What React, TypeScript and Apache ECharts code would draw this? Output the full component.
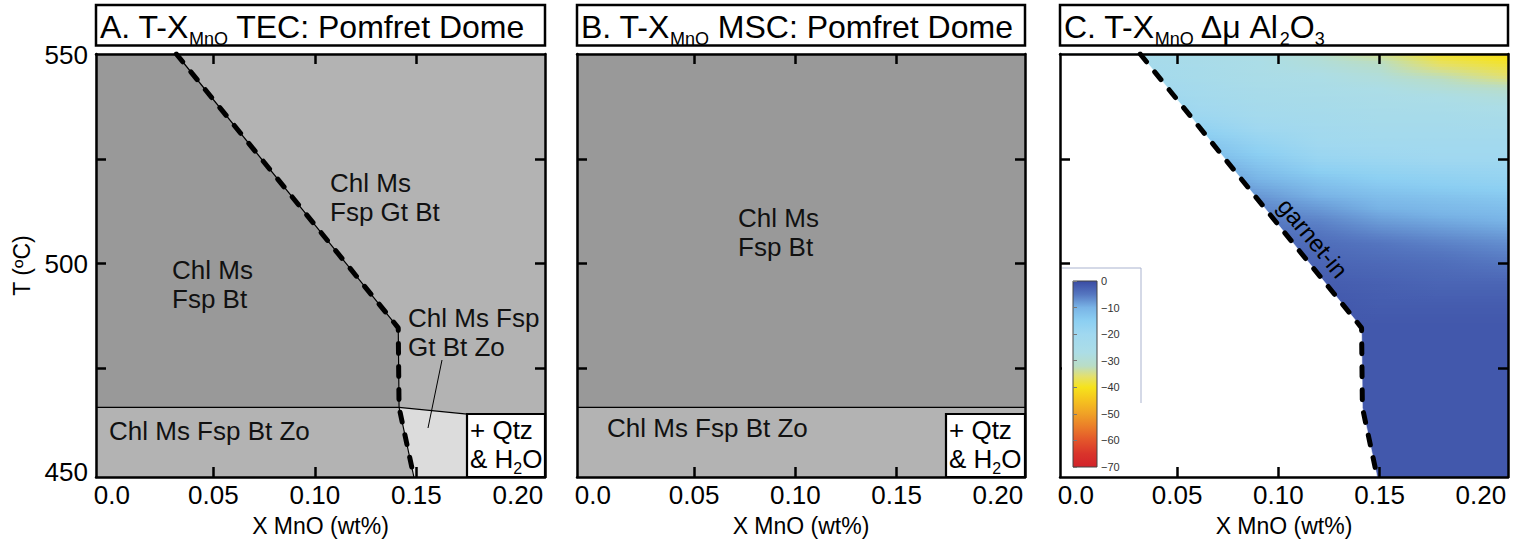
import React, { useEffect, useRef } from "react";
import * as echarts from "echarts";

// ---------- axis ranges / ticks ----------
const X_MIN = -0.0078;
const X_MAX = 0.2134;
const T_MIN = 448.8;
const T_MAX = 550.3;
const xTickLabels = [0, 0.05, 0.1, 0.15, 0.2];
const xTicks = [0.05, 0.1, 0.15];
const tTickLabels = [450, 500, 550];
const tTicks = [475, 500, 525];

// ---------- phase boundaries ----------
// garnet-in boundary (X MnO, T)
const garnetX = [0.0318, 0.1411, 0.1415, 0.1488];
const garnetT = [550.3, 484.6, 465.5, 448.8];
// zoisite-out line, panel A
const zoAX = [-0.0078, 0.1415, 0.1751];
const zoAT = [465.5, 465.5, 463.9];
// zoisite-out line, panel B
const zoBX = [-0.0078, 0.2134];
const zoBT = [465.5, 465.5];

// ---------- Δμ Al2O3 field (panel C) ----------
const dmuX = [0.03, 0.06, 0.09, 0.12, 0.15, 0.18, 0.2134];
const dmuT = [550, 545, 540, 535, 530, 525, 520, 515, 510, 505, 500, 495, 490, 485, 480, 475, 470, 465, 460, 455, 450];
const dmuRows = [
  [-24, -25, -27, -30, -34, -39, -41],
  [-22, -24, -26, -27, -29, -33, -36],
  [-19, -22, -24, -25, -26, -27, -29],
  [-15, -19, -22, -23, -24, -24, -25],
  [-11, -14, -18, -21, -22, -22, -22],
  [-8, -10, -14, -18, -19, -20, -20],
  [-6, -7, -10, -13, -15, -16, -17],
  [-4.5, -5, -7, -9, -11, -12, -13],
  [-3.5, -4, -5, -6, -8, -9, -10],
  [-3, -3, -3.5, -4, -5, -6, -7],
  [-2, -2, -2.5, -3, -3.5, -4, -5],
  [-1.5, -1.5, -2, -2, -2.5, -3, -3],
  [-1.5, -1.5, -1.5, -1.5, -2, -2, -2],
  [-1.5, -1.5, -1.5, -1.5, -1.5, -1.5, -1.5],
  [-1.5, -1.5, -1.5, -1.5, -1.5, -1.5, -1.5],
  [-1.5, -1.5, -1.5, -1.5, -1.5, -1.5, -1.5],
  [-1.5, -1.5, -1.5, -1.5, -1.5, -1.5, -1.5],
  [-1.5, -1.5, -1.5, -1.5, -1.5, -1.5, -1.5],
  [-1.5, -1.5, -1.5, -1.5, -1.5, -1.5, -1.5],
  [-1.5, -1.5, -1.5, -1.5, -1.5, -1.5, -1.5],
  [-1.5, -1.5, -1.5, -1.5, -1.5, -1.5, -1.5],
];

// colour bar
const cbValues = [0, -5, -10, -15, -20, -27, -32, -36, -40, -45, -50, -55, -60, -65, -70];
const cbColors = [
  "#3a4ba3", "#5576c0", "#79b4e6", "#8ccff2", "#a0d8f0", "#acdde6", "#b9ddc6",
  "#e4e06c", "#f6e31c", "#f5c21f", "#f0a126", "#ea7c29", "#e3552b", "#d9342b", "#d2222a",
];

const FONT = "'Liberation Sans', Arial, Helvetica, sans-serif";
const DARK = "#999999";
const LIGHT = "#b3b3b3";
const PALE = "#dcdcdc";

const panels = [
  { left: 96, width: 449 },
  { left: 577, width: 448 },
  { left: 1060, width: 448 },
];
const GRID_TOP = 54;
const GRID_H = 423;

function hexToRgb(h: string) {
  const n = parseInt(h.slice(1), 16);
  return [(n >> 16) & 255, (n >> 8) & 255, n & 255];
}
function colorFor(v: number) {
  if (v >= cbValues[0]) return cbColors[0];
  for (let i = 0; i < cbValues.length - 1; i++) {
    const a = cbValues[i], b = cbValues[i + 1];
    if (v <= a && v >= b) {
      const t = (a - v) / (a - b);
      const c1 = hexToRgb(cbColors[i]), c2 = hexToRgb(cbColors[i + 1]);
      const c = c1.map((x, k) => Math.round(x + (c2[k] - x) * t));
      return `rgb(${c[0]},${c[1]},${c[2]})`;
    }
  }
  return cbColors[cbColors.length - 1];
}

function pairs(xs: number[], ts: number[]) {
  return xs.map((x, i) => [x, ts[i]]);
}

function polySeries(gi: number, pts: number[][], color: string, z = 2) {
  return {
    type: "custom",
    xAxisIndex: gi * 2,
    yAxisIndex: gi * 2,
    silent: true,
    z,
    data: pts,
    renderItem: (params: any, api: any) => {
      if (params.dataIndex !== 0) return { type: "group", children: [] };
      return {
        type: "polygon",
        shape: { points: pts.map((p) => api.coord(p)) },
        style: { fill: color, stroke: color, lineWidth: 0.6 },
      };
    },
  };
}

function lineSeries(gi: number, pts: number[][], width: number, dashed: boolean, z = 4) {
  return {
    type: "line",
    xAxisIndex: gi * 2,
    yAxisIndex: gi * 2,
    data: pts,
    symbol: "none",
    silent: true,
    z,
    lineStyle: dashed
      ? { color: "#000", width, type: [10, 13], cap: "round" }
      : { color: "#000", width, type: "solid" },
  };
}

function xAxesFor(gi: number) {
  const common = {
    type: "value",
    gridIndex: gi,
    min: X_MIN,
    max: X_MAX,
    z: 5,
    splitLine: { show: false },
    axisLine: { show: true, onZero: false, lineStyle: { color: "#000", width: 2.5 } },
    axisTick: { show: true, inside: true, length: 10, customValues: xTicks, lineStyle: { color: "#000", width: 2.5 } },
  };
  return [
    {
      ...common,
      position: "bottom",
      axisLabel: {
        show: true,
        customValues: xTickLabels,
        formatter: (v: number) => (v === 0 ? "0.0" : v.toFixed(2)),
        fontSize: 26,
        color: "#000",
        margin: 5,
        fontFamily: FONT,
      },
      name: "X MnO (wt%)",
      nameLocation: "middle",
      nameGap: 37,
      nameTextStyle: { fontSize: 23, color: "#000", fontFamily: FONT },
    },
    { ...common, position: "top", axisLabel: { show: false } },
  ];
}

function yAxesFor(gi: number) {
  const common = {
    type: "value",
    gridIndex: gi,
    min: T_MIN,
    max: T_MAX,
    z: 5,
    splitLine: { show: false },
    axisLine: { show: true, onZero: false, lineStyle: { color: "#000", width: 2.5 } },
    axisTick: { show: true, inside: true, length: 10, customValues: tTicks, lineStyle: { color: "#000", width: 2.5 } },
  };
  const left: any = {
    ...common,
    position: "left",
    axisLabel: {
      show: gi === 0,
      customValues: tTickLabels,
      fontSize: 26,
      color: "#000",
      margin: 8,
      fontFamily: FONT,
    },
  };
  if (gi === 0) {
    left.name = "T (ºC)";
    left.nameLocation = "middle";
    left.nameGap = 63;
    left.nameRotate = 90;
    left.nameTextStyle = { fontSize: 23, color: "#000", fontFamily: FONT };
  }
  return [left, { ...common, position: "right", axisLabel: { show: false } }];
}

const g = pairs(garnetX, garnetT);
const zoA = pairs(zoAX, zoAT);
const zoB = pairs(zoBX, zoBT);

function buildOption(): any {
  const grids: any[] = panels.map((p) => ({ left: p.left, top: GRID_TOP, width: p.width, height: GRID_H, containLabel: false }));
  grids.push({ left: 1073, top: 281, width: 24, height: 186, containLabel: false });

  const xAxis: any[] = [];
  const yAxis: any[] = [];
  for (let i = 0; i < 3; i++) {
    xAxis.push(...xAxesFor(i));
    yAxis.push(...yAxesFor(i));
  }
  xAxis.push({ type: "value", gridIndex: 3, min: 0, max: 1, show: false });
  yAxis.push({
    type: "value",
    gridIndex: 3,
    min: -70,
    max: 0,
    interval: 10,
    position: "right",
    z: 30,
    axisLine: { show: false },
    splitLine: { show: false },
    axisTick: { show: true, length: 4, lineStyle: { color: "#777", width: 1 } },
    axisLabel: {
      fontSize: 11,
      color: "#333",
      margin: 4,
      fontFamily: FONT,
      formatter: (v: number) => (v === 0 ? "0" : "\u2212" + Math.abs(v)),
    },
  });

  // Panel A regions
  const darkA = [[X_MIN, T_MAX], g[0], g[1], g[2], [X_MIN, zoA[0][1]]];
  const lightUpA = [g[0], [X_MAX, T_MAX], [X_MAX, zoA[2][1]], zoA[2], g[2], g[1]];
  const lightLowA = [[X_MIN, zoA[0][1]], g[2], g[3], [X_MIN, T_MIN]];
  const paleA = [g[2], zoA[2], [zoA[2][0], T_MIN], g[3]];
  // Panel B regions
  const darkB = [[X_MIN, T_MAX], [X_MAX, T_MAX], zoB[1], zoB[0]];
  const lightB = [zoB[0], zoB[1], [X_MAX, T_MIN], [X_MIN, T_MIN]];
  // Panel C mask (garnet absent)
  const maskC = [[X_MIN, T_MAX], g[0], g[1], g[2], g[3], [X_MIN, T_MIN]];

  const heatSeries = {
    type: "custom",
    xAxisIndex: 4,
    yAxisIndex: 4,
    silent: true,
    z: 1,
    data: dmuT.map((t, i) => [t, i]),
    renderItem: (params: any, api: any) => {
      const i = params.dataIndex;
      const children: any[] = [];
      const strip = (tTop: number, tBot: number, vals: number[]) => {
        const p1 = api.coord([X_MIN, tTop]);
        const p2 = api.coord([X_MAX, tBot]);
        const w = p2[0] - p1[0];
        const stops = dmuX.map((x, j) => ({
          offset: Math.max(0, Math.min(1, (api.coord([x, tTop])[0] - p1[0]) / w)),
          color: colorFor(vals[j]),
        }));
        stops.unshift({ offset: 0, color: colorFor(vals[0]) });
        children.push({
          type: "rect",
          shape: { x: p1[0], y: p1[1] - 0.4, width: w, height: p2[1] - p1[1] + 0.8 },
          style: { fill: new echarts.graphic.LinearGradient(0, 0, 1, 0, stops) },
        });
      };
      if (i === 0) strip(T_MAX, dmuT[0], dmuRows[0]);
      if (i < dmuT.length - 1) {
        const N = 7;
        const a = dmuRows[i], b = dmuRows[i + 1];
        const dt = dmuT[i] - dmuT[i + 1];
        for (let k = 0; k < N; k++) {
          const f = (k + 0.5) / N;
          strip(
            dmuT[i] - (dt * k) / N,
            dmuT[i] - (dt * (k + 1)) / N,
            a.map((v, j) => v + (b[j] - v) * f)
          );
        }
      } else {
        strip(dmuT[i], T_MIN, dmuRows[i]);
      }
      return { type: "group", children };
    },
  };

  const colorbarSeries = {
    type: "custom",
    xAxisIndex: 6,
    yAxisIndex: 6,
    silent: true,
    z: 30,
    data: cbValues.map((v) => [0.5, v]),
    renderItem: (params: any, api: any) => {
      if (params.dataIndex !== 0) return { type: "group", children: [] };
      const p1 = api.coord([0, 0]);
      const p2 = api.coord([1, -70]);
      const stops = cbValues.map((v, i) => ({ offset: -v / 70, color: cbColors[i] }));
      return {
        type: "rect",
        shape: { x: p1[0], y: p1[1], width: p2[0] - p1[0], height: p2[1] - p1[1] },
        style: { fill: new echarts.graphic.LinearGradient(0, 0, 0, 1, stops), stroke: "#444", lineWidth: 1 },
      };
    },
  };

  const series: any[] = [
    polySeries(0, darkA, DARK),
    polySeries(0, lightUpA, LIGHT),
    polySeries(0, lightLowA, LIGHT),
    polySeries(0, paleA, PALE),
    lineSeries(0, zoA, 1.2, false, 3),
    lineSeries(0, g, 1.2, false, 3),
    lineSeries(0, g, 5, true, 4),
    polySeries(1, darkB, DARK),
    polySeries(1, lightB, LIGHT),
    lineSeries(1, zoB, 1.2, false, 3),
    heatSeries,
    polySeries(2, maskC, "#ffffff", 2),
    lineSeries(2, g, 5, true, 4),
    colorbarSeries,
  ];

  // main tokens hang from the line top, subscripts sit on the line bottom
  const richMain = { fontSize: 32, fontFamily: FONT, color: "#000", lineHeight: 32, verticalAlign: "top" };
  const richSub = { fontSize: 18, fontFamily: FONT, color: "#000", lineHeight: 37, verticalAlign: "bottom" };
  const titleEl = (left: number, width: number, text: string) => ({
    type: "group",
    children: [
      { type: "rect", z: 10, shape: { x: left, y: 5, width, height: 40.5 }, style: { fill: "#fff", stroke: "#000", lineWidth: 2.5 } },
      {
        type: "text",
        z: 11,
        x: left + 4,
        y: 29,
        style: { text, rich: { m: richMain, s: richSub }, verticalAlign: "middle", align: "left" },
      },
    ],
  });

  const label = (x: number, yFirst: number, text: string) => ({
    type: "text",
    z: 12,
    x,
    y: yFirst - 14.5,
    style: { text, fontSize: 26, lineHeight: 29, fontFamily: FONT, fill: "#111", verticalAlign: "top", align: "left" },
  });

  const qtzBox = (left: number, width: number) => ({
    type: "group",
    children: [
      { type: "rect", z: 10, shape: { x: left, y: 414, width, height: 63 }, style: { fill: "#fff", stroke: "#000", lineWidth: 2.2 } },
      { type: "text", z: 11, x: left + 3, y: 430, style: { text: "+ Qtz", fontSize: 26, lineHeight: 26, fontFamily: FONT, fill: "#000", verticalAlign: "middle" } },
      {
        type: "text",
        z: 11,
        x: left + 3,
        y: 461,
        style: {
          text: "{m|& H}{s|2}{m|O}",
          verticalAlign: "middle",
          rich: {
            m: { fontSize: 26, fontFamily: FONT, color: "#000", lineHeight: 26, verticalAlign: "top" },
            s: { fontSize: 16, fontFamily: FONT, color: "#000", lineHeight: 31, verticalAlign: "bottom" },
          },
        },
      },
    ],
  });

  const graphic: any[] = [
    titleEl(96, 449, "{m|A. T-X}{s|MnO}{m| TEC: Pomfret Dome}"),
    titleEl(577, 448, "{m|B. T-X}{s|MnO}{m| MSC: Pomfret Dome}"),
    titleEl(1060, 448, "{m|C. T-X}{s|MnO}{m| Δμ Al}{s|2}{m|O}{s|3}"),
    label(330, 183, "Chl Ms\nFsp Gt Bt"),
    label(172, 270, "Chl Ms\nFsp Bt"),
    label(408, 318, "Chl Ms Fsp\nGt Bt Zo"),
    label(109, 431, "Chl Ms Fsp Bt Zo"),
    { type: "line", z: 12, shape: { x1: 442, y1: 360, x2: 428, y2: 428 }, style: { stroke: "#000", lineWidth: 1 } },
    qtzBox(467, 78),
    label(738, 218, "Chl Ms\nFsp Bt"),
    label(607, 428, "Chl Ms Fsp Bt Zo"),
    qtzBox(946, 79),
    {
      type: "text",
      z: 12,
      x: 1313,
      y: 238,
      rotation: -0.88,
      style: { text: "garnet-in", fontSize: 24, fontFamily: FONT, fill: "#000", align: "center", verticalAlign: "middle" },
    },
    // colour-bar inset background
    { type: "rect", z: 20, shape: { x: 1062, y: 268, width: 79, height: 207.5 }, style: { fill: "#fff" } },
    { type: "line", z: 21, shape: { x1: 1062, y1: 268, x2: 1141, y2: 268 }, style: { stroke: "#aab3cf", lineWidth: 1 } },
    { type: "line", z: 21, shape: { x1: 1141, y1: 268, x2: 1141, y2: 403 }, style: { stroke: "#aab3cf", lineWidth: 1 } },
  ];

  return {
    animation: false,
    backgroundColor: "#ffffff",
    textStyle: { fontFamily: FONT },
    grid: grids,
    xAxis,
    yAxis,
    series,
    graphic,
  };
}

export default function App() {
  const ref = useRef<HTMLDivElement>(null);
  useEffect(() => {
    if (!ref.current) return;
    const chart = echarts.init(ref.current, null, { renderer: "svg" });
    chart.setOption(buildOption());
    return () => chart.dispose();
  }, []);
  return (
    <div
      ref={ref}
      style={{ position: "fixed", left: 0, top: 0, width: 1528, height: 554, background: "#fff" }}
    />
  );
}
